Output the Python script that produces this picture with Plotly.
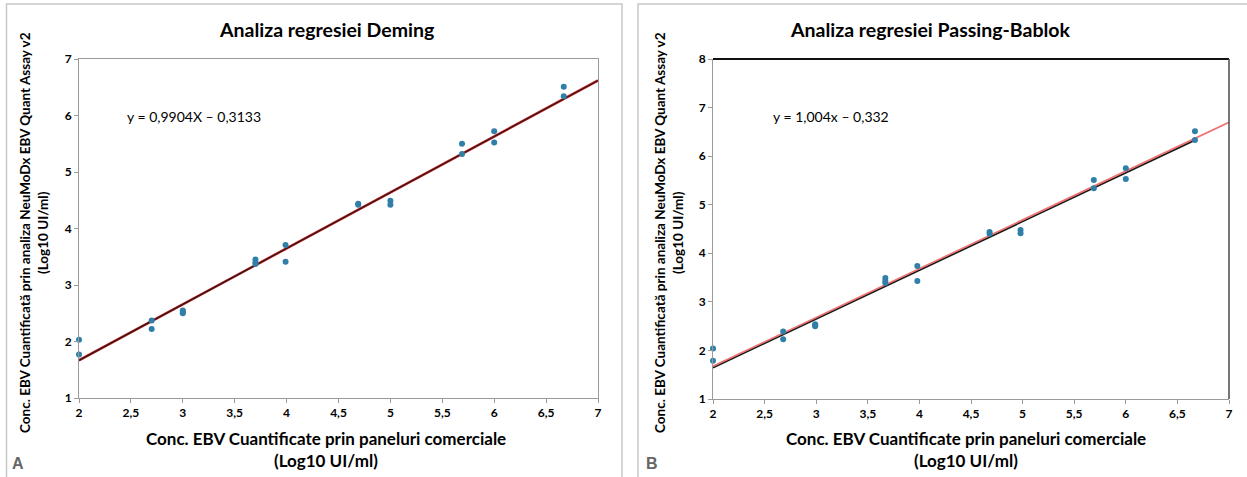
import plotly.graph_objects as go

W, H = 1247, 477

# ---- data ----
deming_x = [2.0, 2.0, 2.7, 2.7, 3.0, 3.0, 3.0, 3.7, 3.7, 3.7, 3.99, 3.99,
            4.69, 4.69, 5.0, 5.0, 5.69, 5.69, 6.0, 6.0, 6.67, 6.67]
deming_y = [2.03, 1.77, 2.37, 2.22, 2.55, 2.52, 2.50, 3.45, 3.40, 3.37, 3.71, 3.41,
            4.44, 4.42, 4.49, 4.42, 5.50, 5.32, 5.72, 5.52, 6.51, 6.34]

pb_x = [2.0, 2.0, 2.68, 2.68, 2.99, 2.99, 2.99, 3.67, 3.67, 3.67, 3.98, 3.98,
        4.68, 4.68, 4.98, 4.98, 5.69, 5.69, 6.0, 6.0, 6.67, 6.67]
pb_y = [2.04, 1.79, 2.39, 2.23, 2.54, 2.52, 2.50, 3.49, 3.43, 3.39, 3.74, 3.43,
        4.44, 4.40, 4.48, 4.41, 5.51, 5.34, 5.75, 5.53, 6.51, 6.33]

deming_slope, deming_int = 0.9904, -0.3133
pb_slope, pb_int = 1.004, -0.332
line_x = [2, 7]
pb_trend_x = [2, 6.67]
pb_trend_y = [1.645, 6.33]

x_ticks = [2, 2.5, 3, 3.5, 4, 4.5, 5, 5.5, 6, 6.5, 7]
x_tick_text = ["2", "2,5", "3", "3,5", "4", "4,5", "5", "5,5", "6", "6,5", "7"]
y_ticks_a = [1, 2, 3, 4, 5, 6, 7]
y_ticks_b = [1, 2, 3, 4, 5, 6, 7, 8]

title_a = "Analiza regresiei Deming"
title_b = "Analiza regresiei Passing-Bablok"
eq_a = "y = 0,9904X – 0,3133"
eq_b = "y = 1,004x – 0,332"
ytitle1 = "Conc. EBV Cuantificată prin analiza NeuMoDx EBV Quant Assay v2"
ytitle2 = "(Log10 UI/ml)"
xtitle1 = "Conc. EBV Cuantificate prin paneluri comerciale"
xtitle2 = "(Log10 UI/ml)"

FONT = "Lato"
PT = "#2f7fa8"

def px(x):
    return x / W

def py(y):
    return 1 - y / H

fig = go.Figure()

# Panel A
fig.add_trace(go.Scatter(x=line_x, y=[deming_slope * v + deming_int for v in line_x],
                         mode="lines", line=dict(color="#d23030", width=2.6),
                         xaxis="x", yaxis="y", showlegend=False, hoverinfo="skip"))
fig.add_trace(go.Scatter(x=line_x, y=[deming_slope * v + deming_int for v in line_x],
                         mode="lines", line=dict(color="#3a1414", width=1.4),
                         xaxis="x", yaxis="y", showlegend=False, hoverinfo="skip"))
fig.add_trace(go.Scatter(x=deming_x, y=deming_y, mode="markers", cliponaxis=False,
                         marker=dict(color=PT, size=6), xaxis="x", yaxis="y", showlegend=False))

# Panel B
fig.add_trace(go.Scatter(x=pb_trend_x, y=pb_trend_y, mode="lines",
                         line=dict(color="#1a1a1a", width=1.8),
                         xaxis="x2", yaxis="y2", showlegend=False, hoverinfo="skip"))
fig.add_trace(go.Scatter(x=line_x, y=[pb_slope * v + pb_int for v in line_x],
                         mode="lines", line=dict(color="#f07070", width=1.6),
                         xaxis="x2", yaxis="y2", showlegend=False, hoverinfo="skip"))
fig.add_trace(go.Scatter(x=pb_x, y=pb_y, mode="markers", cliponaxis=False,
                         marker=dict(color=PT, size=6), xaxis="x2", yaxis="y2", showlegend=False))

tickfont = dict(family=FONT, size=12, color="#000", weight="bold")
axis_common = dict(showgrid=False, zeroline=False, showline=True, linecolor="#9a9a9a",
                   linewidth=1, ticks="outside", ticklen=4, tickcolor="#9a9a9a",
                   tickfont=tickfont, automargin=False)

fig.update_layout(
    template="none",
    width=W, height=H, margin=dict(l=0, r=0, t=0, b=0, autoexpand=False),
    paper_bgcolor="white", plot_bgcolor="white",
    xaxis=dict(domain=[px(79), px(598)], range=[2, 7], tickvals=x_ticks, ticktext=x_tick_text,
               anchor="y", mirror=True, **axis_common),
    yaxis=dict(domain=[py(398), py(59)], range=[1, 7], tickvals=y_ticks_a,
               anchor="x", mirror=True, **axis_common),
    xaxis2=dict(domain=[px(713), px(1229)], range=[2, 7], tickvals=x_ticks, ticktext=x_tick_text,
                anchor="y2", **axis_common),
    yaxis2=dict(domain=[py(399), py(59)], range=[1, 8], tickvals=y_ticks_b,
                anchor="x2", **axis_common),
)

shapes = []
# outer panel frames
shapes.append(dict(type="rect", xref="paper", yref="paper", x0=px(6.5), x1=px(622),
                   y0=-0.1, y1=py(4), line=dict(color="#c8c8c8", width=1.5)))
shapes.append(dict(type="rect", xref="paper", yref="paper", x0=px(638), x1=1.1,
                   y0=-0.1, y1=py(4), line=dict(color="#c8c8c8", width=1.5)))
# panel B top (black) and right (dark) borders
shapes.append(dict(type="line", xref="x2 domain", yref="y2 domain", x0=0, x1=1, y0=1, y1=1,
                   line=dict(color="#111", width=1.8)))
shapes.append(dict(type="line", xref="x2 domain", yref="y2 domain", x0=1, x1=1, y0=0, y1=1,
                   line=dict(color="#555", width=1.6)))
fig.update_layout(shapes=shapes)

ann = []
tfont = dict(family=FONT, size=19.5, color="#000", weight="bold")
ann.append(dict(text=title_a, x=px(326), y=py(30), xref="paper", yref="paper",
                showarrow=False, font=tfont, xanchor="center", yanchor="middle"))
ann.append(dict(text=title_b, x=px(930), y=py(30), xref="paper", yref="paper",
                showarrow=False, font=tfont, xanchor="center", yanchor="middle"))
efont = dict(family=FONT, size=14, color="#000")
ann.append(dict(text=eq_a, x=px(125), y=py(116), xref="paper", yref="paper",
                showarrow=False, font=efont, xanchor="left", yanchor="middle"))
ann.append(dict(text=eq_b, x=px(771), y=py(116), xref="paper", yref="paper",
                showarrow=False, font=efont, xanchor="left", yanchor="middle"))
yfont = dict(family=FONT, size=13.5, color="#000", weight="bold")
for xl1, xl2 in [(25, 43), (660, 678)]:
    ann.append(dict(text=ytitle1, x=px(xl1), y=py(233), xref="paper", yref="paper",
                    showarrow=False, font=yfont, textangle=-90, xanchor="center", yanchor="middle"))
    ann.append(dict(text=ytitle2, x=px(xl2), y=py(233), xref="paper", yref="paper",
                    showarrow=False, font=yfont, textangle=-90, xanchor="center", yanchor="middle"))
xfont = dict(family=FONT, size=17, color="#000", weight="bold")
for cx in [326, 966]:
    ann.append(dict(text=xtitle1, x=px(cx), y=py(438), xref="paper", yref="paper",
                    showarrow=False, font=xfont, xanchor="center", yanchor="middle"))
    ann.append(dict(text=xtitle2, x=px(cx), y=py(460), xref="paper", yref="paper",
                    showarrow=False, font=xfont, xanchor="center", yanchor="middle"))
lfont = dict(family="Liberation Sans", size=16, color="#666", weight="bold")
ann.append(dict(text="A", x=px(18), y=py(463), xref="paper", yref="paper",
                showarrow=False, font=lfont, xanchor="center", yanchor="middle"))
ann.append(dict(text="B", x=px(652), y=py(463), xref="paper", yref="paper",
                showarrow=False, font=lfont, xanchor="center", yanchor="middle"))
fig.update_layout(annotations=ann)

fig.write_html("out.html", config={"displayModeBar": False},
               post_script="document.body.style.margin='0';document.body.style.overflow='hidden';")
